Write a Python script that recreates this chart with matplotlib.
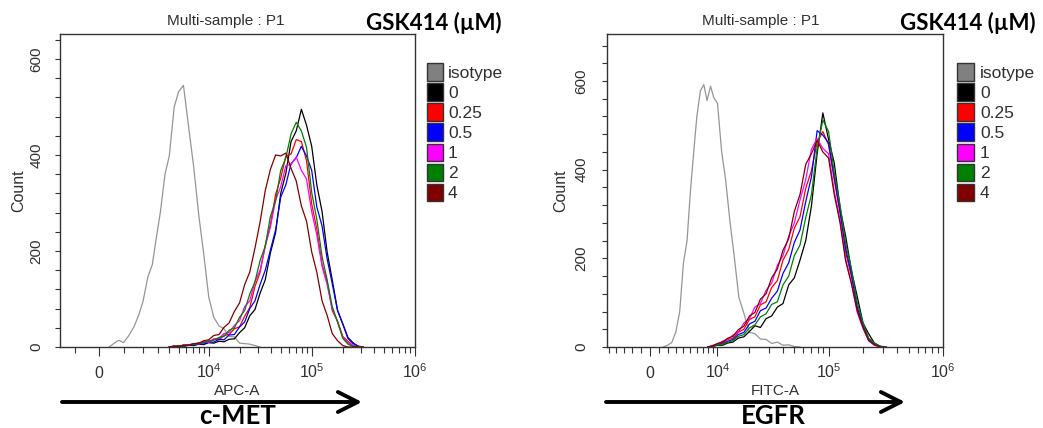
import matplotlib.pyplot as plt
from matplotlib.patches import Rectangle, FancyArrowPatch

W, H = 1043, 428

doses = ['isotype', '0', '0.25', '0.5', '1', '2', '4']
box_colors = ['#808080', '#000000', '#ff0000', '#0000ff', '#ff00ff', '#008000', '#800000']
line_colors = ['#959595', '#000000', '#ff0000', '#0000ff', '#ff00ff', '#008000', '#800000']

# c-MET panel (APC-A)
met_iso_x = [400, 600, 800, 1000, 1250, 1500, 1750, 2000, 2300, 2600, 2900, 3200, 3600, 4000,
             4500, 5000, 5600, 6300, 7100, 8000, 8900, 10000, 11200, 12600, 14100, 15800, 17800,
             20000, 22400, 25100, 28200, 31600]
met_iso = [0, 8, 14, 9, 24, 42, 66, 95, 146, 172, 230, 280, 360, 398, 500, 532, 545, 460, 375,
           272, 196, 104, 62, 44, 38, 22, 21, 8, 7, 6, 3, 0]
met_x = [4000, 4500, 5000, 5600, 6300, 7100, 8000, 8900, 10000, 11200, 12600, 14100, 15800,
         17800, 20000, 22400, 25100, 28200, 31600, 35500, 39800, 44700, 50100, 56200, 63100,
         70800, 79400, 89100, 100000, 112000, 126000, 141000, 158000, 178000, 200000, 224000,
         251000, 282000, 316000]
met_0 = [0, 0, 2, 1, 4, 3, 6, 5, 9, 8, 12, 11, 16, 17, 30, 40, 65, 78, 112, 140, 196, 238, 320,
         362, 428, 450, 495, 462, 418, 338, 282, 198, 140, 76, 48, 20, 9, 1, 0]
met_025 = [0, 2, 1, 4, 3, 7, 6, 11, 10, 16, 15, 24, 26, 38, 42, 64, 82, 126, 155, 212, 255, 318,
           352, 398, 402, 432, 428, 388, 298, 246, 172, 136, 76, 54, 22, 12, 3, 0, 0]
met_05 = [0, 0, 2, 1, 4, 4, 7, 6, 11, 10, 16, 15, 25, 26, 42, 52, 80, 96, 130, 160, 202, 244,
          312, 338, 382, 394, 418, 398, 368, 292, 252, 184, 132, 76, 48, 18, 7, 2, 0]
met_1 = [0, 2, 1, 4, 4, 7, 7, 11, 10, 17, 18, 28, 30, 45, 55, 84, 96, 136, 160, 210, 250, 306,
         334, 378, 380, 396, 368, 350, 282, 234, 168, 130, 80, 52, 20, 9, 2, 0, 0]
met_2 = [0, 1, 3, 2, 5, 5, 9, 9, 13, 14, 20, 22, 35, 40, 62, 76, 110, 136, 180, 210, 272, 304,
         368, 394, 444, 468, 450, 416, 322, 266, 188, 140, 84, 52, 18, 6, 1, 0, 0]
met_4 = [0, 2, 1, 4, 4, 7, 8, 13, 15, 24, 26, 41, 50, 74, 92, 130, 156, 206, 260, 326, 370, 400,
         398, 404, 372, 346, 294, 262, 198, 156, 96, 66, 28, 13, 3, 0, 0, 0, 0]

# EGFR panel (FITC-A)
egfr_iso_x = [1500, 2000, 2500, 3000, 3500, 4000, 4500, 5000, 5500, 6000, 6600, 7200, 7800, 8500,
              9200, 10000, 11000, 12000, 13200, 14500, 16000, 17800, 20000, 22400, 25100, 28200,
              31600, 35500, 39800, 44700, 50100, 56200]
egfr_iso = [0, 4, 10, 34, 80, 190, 240, 352, 440, 520, 578, 592, 556, 588, 562, 550, 440, 378,
            284, 204, 112, 76, 33, 30, 18, 17, 8, 11, 4, 5, 1, 0]
egfr_x = [8000, 9000, 10000, 11200, 12600, 14100, 15800, 17800, 20000, 22400, 25100, 28200,
          31600, 35500, 39800, 44700, 50100, 56200, 63100, 70800, 79400, 89100, 100000, 112000,
          126000, 141000, 158000, 178000, 200000, 224000, 251000, 282000, 316000]
egfr_0 = [0, 1, 4, 4, 9, 11, 20, 23, 35, 48, 44, 64, 70, 90, 98, 140, 156, 196, 240, 318, 436,
          528, 468, 416, 314, 250, 174, 114, 54, 30, 9, 2, 0]
egfr_025 = [0, 3, 7, 9, 17, 20, 33, 40, 62, 68, 95, 102, 134, 150, 196, 220, 268, 294, 358, 398,
            462, 486, 456, 378, 302, 214, 160, 88, 48, 16, 6, 0, 0]
egfr_05 = [0, 2, 6, 7, 13, 17, 28, 33, 52, 58, 82, 88, 110, 126, 166, 190, 236, 264, 328, 384,
           488, 478, 460, 384, 306, 222, 166, 90, 50, 18, 7, 1, 0]
egfr_1 = [0, 4, 6, 13, 17, 27, 33, 54, 64, 90, 98, 128, 144, 184, 206, 250, 280, 332, 378, 446,
          470, 448, 436, 352, 286, 198, 146, 78, 42, 14, 4, 0, 0]
egfr_2 = [0, 2, 5, 6, 11, 14, 24, 28, 43, 50, 68, 75, 96, 102, 140, 160, 206, 230, 292, 344, 448,
          512, 486, 394, 320, 234, 178, 100, 55, 20, 9, 1, 0]
egfr_4 = [0, 3, 8, 11, 20, 24, 39, 47, 70, 78, 108, 120, 156, 176, 218, 244, 306, 344, 412, 436,
          466, 440, 426, 344, 280, 194, 144, 82, 44, 15, 5, 0, 0]

NARROW = ['Liberation Sans Narrow', 'Liberation Sans', 'DejaVu Sans']
ARIAL = ['Liberation Sans', 'DejaVu Sans']
BOLD = ['Lato', 'DejaVu Sans']
TXT = '#303030'


def fx(px):
    return px / W


def fy(py):
    return 1 - py / H


def draw_panel(fig, box, lin_w, xmin, ymax, iso_x, iso, x, curves, channel, ypad, ylab_x):
    l, t, r, b = box
    ax = fig.add_axes([fx(l), fy(b), (r - l) / W, (b - t) / H])
    ax.set_xscale('asinh', linear_width=lin_w)
    ax.plot(iso_x, iso, color=line_colors[0], lw=0.9)
    for y, c in zip(curves, line_colors[1:]):
        ax.plot(x, y, color=c, lw=0.9)
    ax.set_xlim(xmin, 1e6)
    ax.set_ylim(0, ymax)

    ax.set_xticks([0, 1e4, 1e5, 1e6],
                  labels=['$\\mathregular{0}$', '$\\mathregular{10^4}$',
                          '$\\mathregular{10^5}$', '$\\mathregular{10^6}$'],
                  fontsize=11.5, family=NARROW, color=TXT)
    minor = [-k * 1000 for k in range(1, 10) if -k * 1000 > xmin]
    minor += [k * 1000 for k in range(1, 10)]
    minor += [k * 10 ** e for e in (4, 5) for k in range(2, 10)]
    ax.set_xticks(minor, minor=True)
    ax.set_yticks([0, 200, 400, 600], labels=['0', '200', '400', '600'],
                  rotation=90, fontsize=11, family=ARIAL, color=TXT)
    ax.set_yticks([v for v in range(40, int(ymax), 40) if v % 200], minor=True)

    ax.tick_params(axis='x', which='major', length=6.5, width=0.8, color='#333333', pad=16)
    ax.tick_params(axis='x', which='minor', length=4, width=0.8, color='#333333')
    ax.tick_params(axis='y', which='both', length=3.8, width=0.8, color='#333333', pad=ypad)
    for lbl in ax.get_xticklabels():
        lbl.set_va('baseline')
    for lbl in ax.get_yticklabels():
        lbl.set_va('center')
    for s in ax.spines.values():
        s.set_color('#333333')
        s.set_linewidth(1)

    ax.set_xlabel(channel, fontsize=11, family=NARROW, color=TXT)
    ax.xaxis.set_label_coords(0.5, (b - 391) / (b - t))
    ax.xaxis.label.set_va('center')
    ax.set_ylabel('Count', fontsize=11.5, family=ARIAL, color=TXT)
    ax.yaxis.set_label_coords((ylab_x - l) / (r - l), 0.5)
    ax.yaxis.label.set_va('center')
    return ax


def legend_box(fig, box_x, text_x, box_w):
    for i, (lab, col) in enumerate(zip(doses, box_colors)):
        yc = 72 + 20 * i
        fig.add_artist(Rectangle((fx(box_x), fy(yc + 8.5)), box_w / W, 17 / H,
                                 transform=fig.transFigure, facecolor=col,
                                 edgecolor='#333333', lw=1))
        fig.text(fx(text_x), fy(yc), lab, fontsize=12.5, family=NARROW, color=TXT,
                 ha='left', va='center_baseline')


fig = plt.figure(figsize=(W / 100, H / 100), dpi=100)

draw_panel(fig, (60, 34, 415, 347), 1748, -1722, 652, met_iso_x, met_iso, met_x,
           [met_0, met_025, met_05, met_1, met_2, met_4], 'APC-A', 8, 19)
draw_panel(fig, (607, 34, 943, 347), 5500, -5360, 706, egfr_iso_x, egfr_iso, egfr_x,
           [egfr_0, egfr_025, egfr_05, egfr_1, egfr_2, egfr_4], 'FITC-A', 9.5, 561)

legend_box(fig, 427, 448, 16)
legend_box(fig, 957, 980, 17)

for cx, gx, ax0, ax1, name, nx in [(226, 366, 62, 362, 'c-MET', 238),
                                   (761, 900, 606, 905, 'EGFR', 773)]:
    fig.text(fx(cx), fy(21), 'Multi-sample : P1', fontsize=11, family=NARROW, color=TXT,
             ha='center', va='center')
    fig.text(fx(gx), fy(23), 'GSK414 (µM)', fontsize=16, family=BOLD, weight='bold',
             ha='left', va='center')
    fig.add_artist(FancyArrowPatch((fx(ax0), fy(402)), (fx(ax1), fy(402)),
                                   transform=fig.transFigure,
                                   arrowstyle='->,head_length=0.95,head_width=0.48',
                                   mutation_scale=15, lw=2.8, color='black',
                                   shrinkA=0, shrinkB=0))
    fig.text(fx(nx), fy(424), name, fontsize=18.5, family=BOLD, weight='bold',
             ha='center', va='baseline')

plt.savefig('out.png', dpi=100)
